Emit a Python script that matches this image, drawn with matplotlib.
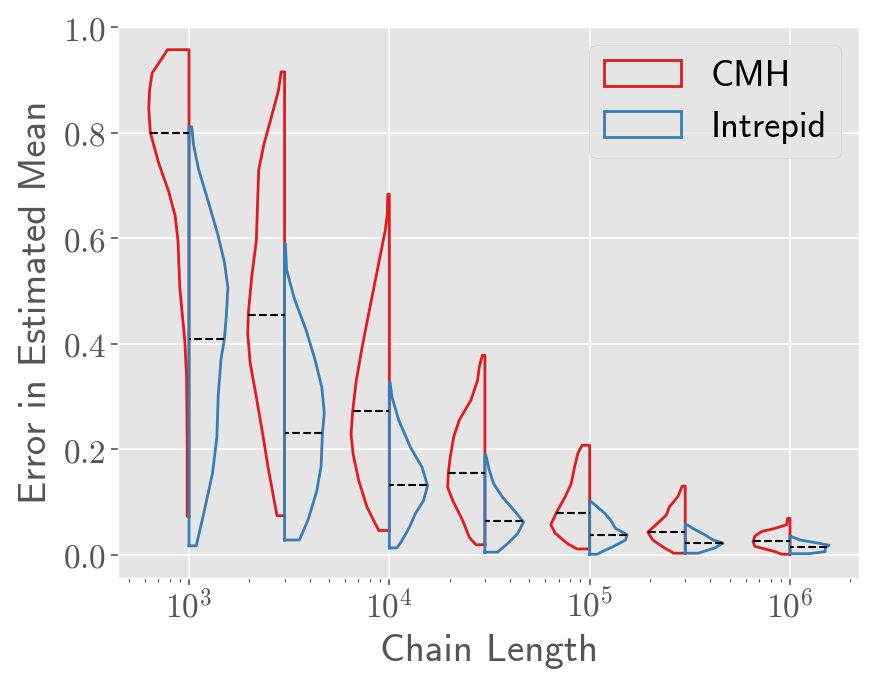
import matplotlib
matplotlib.use('Agg')
import matplotlib.pyplot as plt
import numpy as np
from matplotlib.patches import Patch
from matplotlib.ticker import FixedLocator, FixedFormatter

# ---------------- data ----------------
lengths = [1e3, 3e3, 1e4, 3e4, 1e5, 3e5, 1e6]

# half-violin profiles: y values (error) and half-width (in decades of chain length)
cmh_y = [
    [0.073, 0.200, 0.337, 0.405, 0.506, 0.595, 0.642, 0.689, 0.744, 0.800, 0.845, 0.880, 0.913, 0.935, 0.957],
    [0.074, 0.167, 0.235, 0.303, 0.364, 0.418, 0.457, 0.527, 0.595, 0.676, 0.730, 0.778, 0.825, 0.879, 0.915],
    [0.046, 0.090, 0.141, 0.191, 0.229, 0.272, 0.330, 0.393, 0.457, 0.520, 0.583, 0.615, 0.646, 0.683],
    [0.019, 0.033, 0.065, 0.103, 0.128, 0.154, 0.185, 0.223, 0.255, 0.293, 0.330, 0.356, 0.378],
    [0.011, 0.022, 0.041, 0.057, 0.079, 0.110, 0.135, 0.167, 0.192, 0.2075],
    [0.003, 0.013, 0.028, 0.043, 0.060, 0.075, 0.091, 0.110, 0.130],
    [0.001, 0.006, 0.016, 0.025, 0.035, 0.044, 0.050, 0.057, 0.069],
]
cmh_w = [
    [0.009, 0.009, 0.012, 0.021, 0.046, 0.055, 0.069, 0.102, 0.153, 0.193, 0.201, 0.197, 0.184, 0.145, 0.107],
    [0.038, 0.083, 0.112, 0.143, 0.172, 0.184, 0.181, 0.164, 0.141, 0.134, 0.129, 0.103, 0.069, 0.031, 0.017],
    [0.053, 0.111, 0.153, 0.181, 0.191, 0.183, 0.165, 0.136, 0.103, 0.070, 0.037, 0.020, 0.010, 0.008],
    [0.045, 0.078, 0.111, 0.161, 0.186, 0.183, 0.173, 0.156, 0.128, 0.070, 0.037, 0.028, 0.013],
    [0.064, 0.114, 0.172, 0.194, 0.167, 0.122, 0.092, 0.075, 0.059, 0.038],
    [0.057, 0.104, 0.162, 0.187, 0.137, 0.095, 0.079, 0.037, 0.015],
    [0.040, 0.075, 0.176, 0.184, 0.176, 0.142, 0.075, 0.017, 0.012],
]
intrepid_y = [
    [0.017, 0.079, 0.154, 0.222, 0.303, 0.371, 0.410, 0.452, 0.506, 0.554, 0.608, 0.676, 0.730, 0.778, 0.811],
    [0.028, 0.066, 0.120, 0.167, 0.230, 0.269, 0.317, 0.371, 0.425, 0.486, 0.540, 0.589],
    [0.013, 0.027, 0.052, 0.078, 0.103, 0.131, 0.166, 0.204, 0.255, 0.299, 0.327],
    [0.005, 0.021, 0.040, 0.062, 0.084, 0.109, 0.135, 0.160, 0.190],
    [0.001, 0.006, 0.016, 0.028, 0.038, 0.050, 0.066, 0.079, 0.091, 0.101],
    [0.003, 0.013, 0.022, 0.028, 0.038, 0.050, 0.058],
    [0.002, 0.006, 0.013, 0.018, 0.022, 0.028, 0.035],
]
intrepid_w = [
    [0.036, 0.074, 0.117, 0.139, 0.146, 0.160, 0.177, 0.186, 0.194, 0.177, 0.143, 0.091, 0.048, 0.022, 0.014],
    [0.074, 0.117, 0.160, 0.182, 0.189, 0.198, 0.186, 0.151, 0.108, 0.048, 0.010, 0.004],
    [0.038, 0.063, 0.100, 0.130, 0.171, 0.191, 0.163, 0.105, 0.047, 0.013, 0.004],
    [0.063, 0.113, 0.163, 0.193, 0.146, 0.088, 0.043, 0.022, 0.004],
    [0.037, 0.062, 0.120, 0.179, 0.187, 0.129, 0.104, 0.074, 0.037, 0.007],
    [0.064, 0.147, 0.189, 0.139, 0.097, 0.038, 0.004],
    [0.092, 0.176, 0.176, 0.196, 0.142, 0.050, 0.004],
]
cmh_median = [0.800, 0.455, 0.272, 0.155, 0.079, 0.043, 0.026]
intrepid_median = [0.409, 0.230, 0.132, 0.064, 0.037, 0.022, 0.015]

series_names = ['CMH', 'Intrepid']
x_tick_values = [1e3, 1e4, 1e5, 1e6]
x_tick_labels = ['$10^{3}$', '$10^{4}$', '$10^{5}$', '$10^{6}$']
y_tick_values = [0.0, 0.2, 0.4, 0.6, 0.8, 1.0]
y_tick_labels = ['$0.0$', '$0.2$', '$0.4$', '$0.6$', '$0.8$', '$1.0$']

# ---------------- style ----------------
plt.style.use('ggplot')
plt.rcParams['mathtext.fontset'] = 'cm'
RED = '#e41a1c'
BLUE = '#377eb8'
GRAY = '#555555'

fig = plt.figure(figsize=(8.75, 6.86), dpi=100)
ax = fig.add_axes([118 / 875, 1 - 578 / 686, (859 - 118) / 875, (578 - 27) / 686])
ax.set_xscale('log')


def half_violin(c, ys, ws, side, color, med):
    ys = np.asarray(ys)
    ws = np.asarray(ws)
    sign = -1 if side == 'left' else 1
    xs = c * 10 ** (sign * ws)
    px = np.concatenate([[c], xs, [c, c]])
    py = np.concatenate([[ys[0]], ys, [ys[-1], ys[0]]])
    ax.plot(px, py, color=color, lw=2.0, solid_joinstyle='round', zorder=3)
    wm = np.interp(med, ys, ws)
    ax.plot([c * 10 ** (sign * wm), c], [med, med], color='black', ls='--', lw=1.5, zorder=4)


for i, c in enumerate(lengths):
    half_violin(c, cmh_y[i], cmh_w[i], 'left', RED, cmh_median[i])
for i, c in enumerate(lengths):
    half_violin(c, intrepid_y[i], intrepid_w[i], 'right', BLUE, intrepid_median[i])

ax.set_xlim(10 ** (3 + (118 - 189) / 200.3), 10 ** (6 + (859 - 790) / 200.3))
ax.set_ylim(-0.044, 1.0)

ax.xaxis.set_major_locator(FixedLocator(x_tick_values))
ax.xaxis.set_major_formatter(FixedFormatter(x_tick_labels))
ax.yaxis.set_major_locator(FixedLocator(y_tick_values))
ax.yaxis.set_major_formatter(FixedFormatter(y_tick_labels))
ax.tick_params(axis='both', which='major', labelsize=24, colors=GRAY, length=5, width=1.2)
ax.tick_params(axis='x', which='minor', colors=GRAY, length=3, width=0.8)
ax.grid(True, which='major', color='white', lw=1.2)
ax.grid(False, which='minor')

ax.set_xlabel('Chain Length', fontfamily='cmss10', fontsize=28, color=GRAY, labelpad=7)
ax.set_ylabel('Error in Estimated Mean', fontfamily='cmss10', fontsize=28, color=GRAY, labelpad=6)

handles = [Patch(facecolor='none', edgecolor=RED, lw=2.0, label=series_names[0]),
           Patch(facecolor='none', edgecolor=BLUE, lw=2.0, label=series_names[1])]
leg = ax.legend(handles=handles, loc='upper right', prop={'family': 'cmss10', 'size': 26},
                handlelength=2.15, handleheight=0.75, borderaxespad=0.5)
for t in leg.get_texts():
    t.set_color('black')

fig.savefig('out.png', dpi=100)
